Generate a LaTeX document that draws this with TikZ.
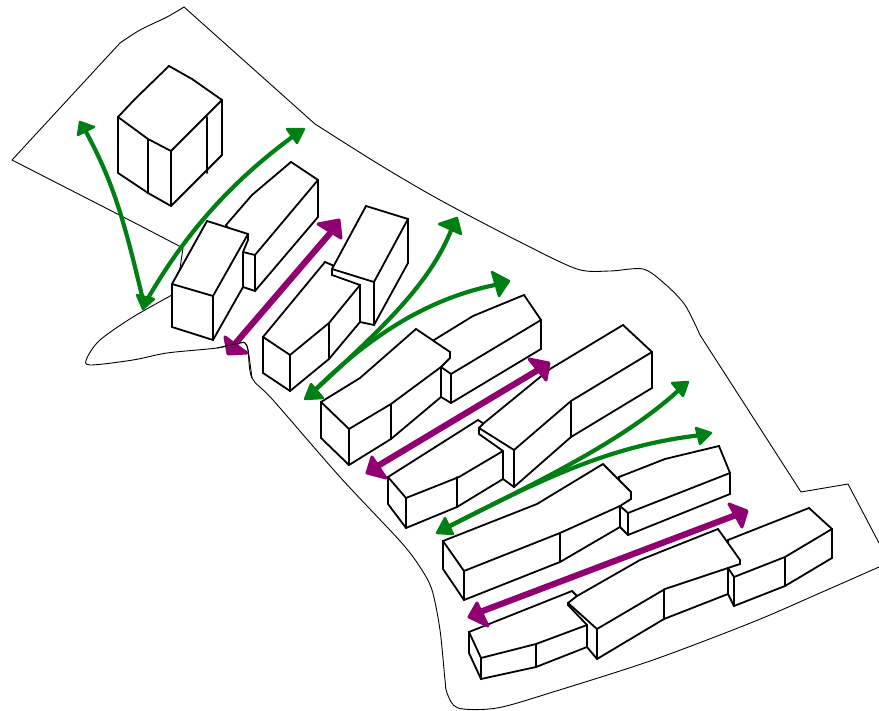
\documentclass[tikz,border=0pt]{standalone}
\definecolor{grn}{RGB}{0,128,20}
\definecolor{pur}{RGB}{144,0,112}
\tikzset{
  bld/.style={draw=black,fill=white,line width=1.8pt,line join=miter,line cap=round},
  edgeln/.style={draw=black,line width=1.8pt,line cap=round},
  site/.style={draw=black,line width=0.9pt,line join=round},
  garrow/.style={draw=grn,line width=4.2pt},
  parrow/.style={draw=pur,line width=6.2pt},
  ghead/.style={fill=grn,draw=grn,line width=2.4pt,line join=round},
  phead/.style={fill=pur,draw=pur,line width=3pt,line join=round}
}
\begin{document}
\begin{tikzpicture}[x=1pt,y=-1pt]
\useasboundingbox (0,0) rectangle (879,711);
\fill[white] (0,0) rectangle (879,711);
% site boundary
\draw[site] (184,7) -- (315,124) plot[smooth,tension=.5] coordinates {(315,124)(380,165)(440,200)(520,242)(577,269)(610,271)(643,269)(665,284)(685,305)(700,335)} -- (801,492) -- (848,484) -- (879,543);
\draw[site] plot[smooth,tension=.5] coordinates {(879,567)(820,593)(753,622)(653,660)(553,692)(497,708)(458,708)(447,693)(445,680)(440,630)(432,590)(420,567)(400,541)(340,477)(273,400)(252,378)(248,350)(245,343)(240,343)(217,348)(167,353)(133,360)(90,365)(87,358)(100,340)(133,317)(172,295)};
\draw[site] (178,282) -- (183,248) -- (135,223) -- (12,160) -- (120,43);
\draw[site] plot[smooth,tension=.5] coordinates {(120,43)(140,30)(167,17)(184,7)};
% cube
\draw[bld] (118,117) -- (135,99) -- (169,66) -- (192,79) -- (222,100) -- (222,155) -- (171,206) -- (148,193) -- (118,173) -- cycle;
\draw[edgeln] (118,117) -- (148,139) -- (171,151) -- (222,100) (171,151) -- (171,206) (148,139) -- (148,193) (207,117) -- (207,173);
% row 1
\draw[bld] (226,225) -- (252,195) -- (291,162) -- (318,180) -- (318,217) -- (255,291) -- (243,287) -- (243,252) -- cycle;
\draw[edgeln] (243,252) -- (255,255) -- (318,180) (255,255) -- (255,291);
\draw[bld] (207,221) -- (248,234) -- (248,240) -- (243,252) -- (243,287) -- (213,340) -- (172,327) -- (172,284) -- cycle;
\draw[edgeln] (172,284) -- (213,296) -- (248,234) (213,296) -- (213,340);
% row 2
\draw[bld] (263,337) -- (325,262) -- (332,265) -- (360,285) -- (360,322) -- (329,359) -- (290,391) -- (263,373) -- cycle;
\draw[edgeln] (263,337) -- (290,355) -- (329,323) -- (360,285) (290,355) -- (290,391) (329,323) -- (329,359);
\draw[bld] (366,206) -- (408,219) -- (408,263) -- (374,325) -- (360,322) -- (360,285) -- (332,275) -- (332,269) -- cycle;
\draw[edgeln] (332,269) -- (374,282) -- (408,219) (374,282) -- (374,325);
% row 3
\draw[bld] (434,340) -- (473,316) -- (524,295) -- (541,320) -- (541,349) -- (451,403) -- (441,397) -- (441,367) -- cycle;
\draw[edgeln] (441,367) -- (451,374) -- (541,320) (451,374) -- (451,403);
\draw[bld] (321,402) -- (360,378) -- (416,329) -- (450,352) -- (450,358) -- (441,367) -- (441,397) -- (391,439) -- (349,465) -- (321,438) -- cycle;
\draw[edgeln] (321,402) -- (349,429) -- (391,404) -- (441,367) (349,429) -- (349,465) (391,404) -- (391,439);
% row 4
\draw[bld] (388,477) -- (478,420) -- (484,424) -- (503,451) -- (503,479) -- (457,507) -- (406,528) -- (388,504) -- cycle;
\draw[edgeln] (388,477) -- (406,498) -- (459,477) -- (503,451) (406,498) -- (406,528) (457,477) -- (457,507);
\draw[bld] (484,423) -- (550,369) -- (623,325) -- (652,352) -- (652,388) -- (571,437) -- (514,487) -- (503,479) -- (503,451) -- (479,434) -- (479,428) -- cycle;
\draw[edgeln] (479,428) -- (514,450) -- (571,401) -- (652,352) (514,450) -- (514,487) (571,401) -- (571,437);
% row 5
\draw[bld] (619,477) -- (665,459) -- (719,446) -- (730,473) -- (730,494) -- (628,535) -- (620,527) -- (620,506) -- cycle;
\draw[edgeln] (620,506) -- (628,513) -- (730,473) (628,513) -- (628,535);
\draw[bld] (443,541) -- (537,504) -- (603,464) -- (631,492) -- (631,499) -- (620,506) -- (620,527) -- (560,562) -- (464,600) -- (443,569) -- cycle;
\draw[edgeln] (443,541) -- (464,571) -- (560,533) -- (620,506) (464,571) -- (464,600) (560,533) -- (560,562);
% row 6
\draw[bld] (469,632) -- (572,591) -- (577,596) -- (587,625) -- (587,647) -- (536,667) -- (481,679) -- (469,653) -- cycle;
\draw[edgeln] (469,632) -- (481,658) -- (536,644) -- (587,625) (481,658) -- (481,679) (536,644) -- (536,667);
\draw[bld] (728,540) -- (809,508) -- (832,529) -- (832,558) -- (785,586) -- (734,606) -- (728,594) -- (728,568) -- cycle;
\draw[edgeln] (728,568) -- (734,577) -- (785,557) -- (832,529) (734,577) -- (734,606) (785,557) -- (785,586);
\draw[bld] (577,596) -- (640,560) -- (718,529) -- (740,560) -- (740,564) -- (728,568) -- (728,594) -- (664,619) -- (597,659) -- (587,647) -- (587,625) -- (568,605) -- (568,603) -- cycle;
\draw[edgeln] (568,603) -- (597,629) -- (665,589) -- (728,568) (597,629) -- (597,659) (664,589) -- (664,619);
% green shafts
\draw[garrow] (143,300) .. controls (125,225) and (115,185) .. (85,130);
\draw[garrow] (147,300) .. controls (190,225) and (240,175) .. (295,135);
\draw[garrow] (312,393) .. controls (380,330) and (430,285) .. (452,228);
\draw[garrow] (312,393) .. controls (370,335) and (430,297) .. (500,284);
\draw[garrow] (444,529) .. controls (520,490) and (620,445) .. (680,389);
\draw[garrow] (444,529) .. controls (540,480) and (610,445) .. (702,435);
% green heads
\fill[ghead] (78,135) -- (80,122) -- (94,127) -- cycle;
\fill[ghead] (287,129) -- (304,129) -- (297,143) -- cycle;
\fill[ghead] (137,295) -- (154,299) -- (143,309) -- cycle;
\fill[ghead] (439,224) -- (457,218) -- (461,234) -- cycle;
\fill[ghead] (492,272) -- (509,281) -- (499,296) -- cycle;
\fill[ghead] (305,399) -- (311,384) -- (323,398) -- cycle;
\fill[ghead] (437,533) -- (445,518) -- (453,534) -- cycle;
\fill[ghead] (672,383) -- (688,382) -- (683,396) -- cycle;
\fill[ghead] (696,428) -- (711,433) -- (700,444) -- cycle;
% purple shafts and heads
\draw[parrow] (234,345) -- (332,231);
\draw[parrow] (376,467) -- (538,370);
\draw[parrow] (480,612) -- (736,515);
\fill[phead] (225,337) -- (228,354) -- (247,353) -- cycle;
\fill[phead] (318,224) -- (339,220) -- (341,238) -- cycle;
\fill[phead] (529,359) -- (549,363) -- (546,380) -- cycle;
\fill[phead] (367,473) -- (372,457) -- (386,478) -- cycle;
\fill[phead] (729,504) -- (747,511) -- (742,527) -- cycle;
\fill[phead] (469,617) -- (477,603) -- (488,626) -- cycle;
% boundary over the arrow tip
\draw[site] plot[smooth,tension=.5] coordinates {(252,378)(248,350)(245,343)(240,343)(217,348)};
\end{tikzpicture}
\end{document}
